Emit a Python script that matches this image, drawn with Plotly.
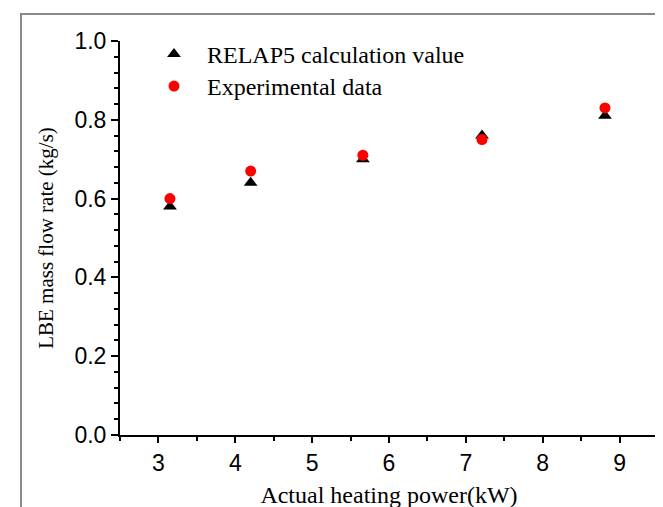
import plotly.graph_objects as go

# Data
power_kw = [3.15, 4.20, 5.66, 7.21, 8.81]
relap5_flow = [0.58, 0.64, 0.70, 0.76, 0.81]
exp_flow = [0.60, 0.67, 0.71, 0.75, 0.83]

x_title = "Actual heating power(kW)"
y_title = "LBE mass flow rate (kg/s)"
name_relap = "RELAP5 calculation value"
name_exp = "Experimental data"

W, H = 663, 507
L, R, T, B = 112, 13, 33, 80
pw, ph = W - L - R, H - T - B

def px_to_paper_x(px):
    return (px - L) / pw

def px_to_paper_y(py):
    return (H - B - py) / ph

fig = go.Figure()
fig.add_trace(go.Scatter(
    x=power_kw, y=relap5_flow, mode="markers", name=name_relap,
    marker=dict(symbol="triangle-up", size=12, color="black"),
    legend="legend",
))
fig.add_trace(go.Scatter(
    x=power_kw, y=exp_flow, mode="markers", name=name_exp,
    marker=dict(symbol="circle", size=11, color="#ff0000"),
    legend="legend2",
))

tickfont = dict(family="Liberation Sans, Arial", size=23, color="black")
titlefont = dict(family="Liberation Serif, Times New Roman", size=24, color="black")
legendfont = dict(family="Liberation Serif, Times New Roman", size=24, color="black")

fig.update_xaxes(
    range=[2.5, 9.5], dtick=1, tick0=0, showgrid=False, zeroline=False,
    showline=True, linewidth=2, linecolor="black", mirror=False,
    ticks="outside", ticklen=6, tickwidth=2, tickcolor="black",
    minor=dict(dtick=0.5, tick0=0, ticks="outside", ticklen=4, tickwidth=2, tickcolor="black", showgrid=False),
    tickfont=tickfont,
    title=dict(text=x_title, font=titlefont, standoff=12),
)
fig.update_yaxes(
    range=[0, 1.0], dtick=0.2, tick0=0, tickformat=".1f", showgrid=False, zeroline=False,
    showline=True, linewidth=2, linecolor="black", mirror=False,
    ticks="outside", ticklen=7, tickwidth=2, tickcolor="black",
    minor=dict(dtick=0.04, tick0=0, ticks="outside", ticklen=4, tickwidth=2, tickcolor="black", showgrid=False),
    tickfont=tickfont,
    title=dict(text=y_title, font=dict(family="Liberation Serif, Times New Roman", size=21, color="black"), standoff=15),
)

# Gray frame around the figure
fig.add_shape(type="rect", xref="paper", yref="paper",
              x0=px_to_paper_x(13), x1=px_to_paper_x(660),
              y0=px_to_paper_y(530), y1=px_to_paper_y(6),
              line=dict(color="#8a8a8a", width=2), fillcolor="rgba(0,0,0,0)", layer="below")

legend_common = dict(xanchor="left", yanchor="top", font=legendfont,
                     bgcolor="rgba(0,0,0,0)", itemwidth=56)
fig.update_layout(
    width=W, height=H,
    margin=dict(l=L, r=R, t=T, b=B, autoexpand=False),
    paper_bgcolor="white", plot_bgcolor="white",
    showlegend=True,
    legend=dict(x=px_to_paper_x(133), y=px_to_paper_y(24), **legend_common),
    legend2=dict(x=px_to_paper_x(133), y=px_to_paper_y(56), **legend_common),
)

fig.write_html("out.html")
